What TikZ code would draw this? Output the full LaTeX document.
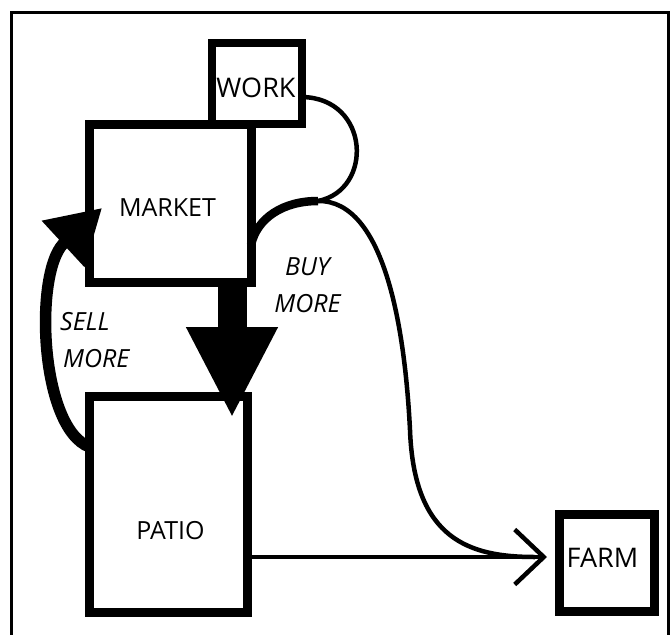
\documentclass[tikz,border=0pt]{standalone}
\usepackage{fontspec}
\setmainfont{Open Sans}
\usetikzlibrary{arrows.meta}
\begin{document}
\begin{tikzpicture}[x=1pt,y=-1pt,
  box/.style={draw, rectangle, line width=9pt, inner sep=0pt, outer sep=0pt},
  lbl/.style={font=\fontsize{25}{30}\selectfont, anchor=base, inner sep=0pt},
  ital/.style={font=\fontsize{25}{30}\selectfont\itshape, anchor=base, inner sep=0pt},
  frameline/.style={line width=3pt},
  flow/.style={line width=4.5pt},
  bigflow/.style={line width=29pt, -{Triangle[width=85pt,length=91pt]}},
  sellflow/.style={line width=11.5pt, -{Triangle[width=60pt,length=53pt]}},
  buyflow/.style={line width=8.5pt},
  farmflow/.style={line width=4.5pt, -{Straight Barb[length=29pt,width=55pt]}}
]
\useasboundingbox (0,0) rectangle (670,635);
% outer frame, open at the bottom
\draw[frameline] (11.5,640) -- (11.5,12.5) -- (668.5,12.5) -- (668.5,640);

% boxes
\node[box, line width=7.5pt, minimum width=90pt, minimum height=81pt] (work) at (257,83.5) {};
\node[box, minimum width=162pt, minimum height=158pt] (market) at (170,203) {};
\node[box, minimum width=158pt, minimum height=216pt] (patio) at (168.5,504) {};
\node[box, minimum width=95pt, minimum height=97pt] (farm) at (606.5,562.5) {};

% box captions
\node[lbl, font=\fontsize{27}{30}\selectfont] (worktxt) at (256,97) {WORK};
\node[lbl] (markettxt) at (167.5,216) {MARKET};
\node[lbl] (patiotxt) at (170.5,539) {PATIO};
\node[lbl, font=\fontsize{27}{30}\selectfont] (farmtxt) at (602.5,567) {FARM};

% flow labels
\node[ital, anchor=base west] (sell1) at (60,330) {SELL};
\node[ital, anchor=base west] (sell2) at (63,367) {MORE};
\node[ital] (buy1) at (307.5,275) {BUY};
\node[ital] (buy2) at (307.5,312) {MORE};

% junction points of the curves
\coordinate (fork) at (318,201);
\coordinate (join) at (535,557);

% market to patio
\draw[bigflow] ([xshift=62pt]market.south) -- ([xshift=63.5pt,yshift=-22pt]patio.north);
% patio back to market: the curve ends at the back of the head, the last straight piece carries the tip
\draw[sellflow] ([yshift=57pt]patio.west) .. controls (40,428) and (34,275) .. (63,244) -- ([xshift=13pt,yshift=-5pt]market.west);
% market out to the fork
\draw[buyflow] ([yshift=-42pt]market.east) .. controls (257,218) and (283,201) .. (fork);
% work loop into the fork
\draw[flow] ([yshift=-13.5pt]work.east) .. controls (370,98) and (374,190) .. (fork);
% fork down to the farm line
\draw[flow] (fork) .. controls (385,200) and (405,330) .. (410,430) .. controls (414,540) and (470,557) .. (join);
% patio to farm
\draw[farmflow] ([yshift=-53pt]patio.east) -- ([xshift=-12pt,yshift=5.5pt]farm.west);
\end{tikzpicture}
\end{document}
